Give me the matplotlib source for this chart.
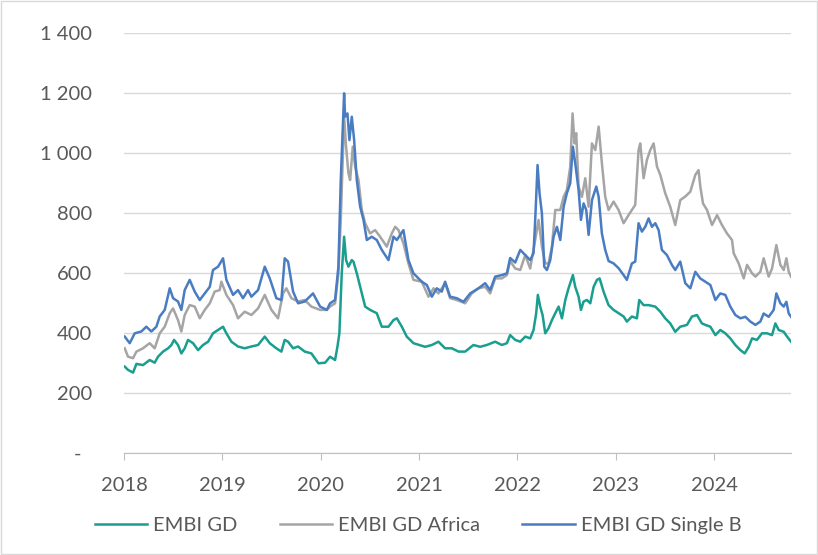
import matplotlib
matplotlib.use("Agg")
import matplotlib.pyplot as plt
from matplotlib.patches import Rectangle
from matplotlib.ticker import FuncFormatter

# Spreads in bps; time as decimal year
gd_t = [2018.007, 2018.041, 2018.092, 2018.126, 2018.193, 2018.261, 2018.312, 2018.346, 2018.397, 2018.448,
        2018.482, 2018.509, 2018.549, 2018.583, 2018.617, 2018.651, 2018.702, 2018.753, 2018.804, 2018.855,
        2018.905, 2018.956,
        2019.007, 2019.041, 2019.092, 2019.159, 2019.227, 2019.295, 2019.363, 2019.431, 2019.482, 2019.549,
        2019.600, 2019.634, 2019.668, 2019.719, 2019.770, 2019.838, 2019.905,
        2019.977, 2020.045, 2020.095, 2020.146, 2020.170, 2020.190, 2020.214, 2020.238, 2020.258, 2020.282,
        2020.316, 2020.333, 2020.367, 2020.418, 2020.452, 2020.502, 2020.570, 2020.621, 2020.689, 2020.740,
        2020.774, 2020.825, 2020.875, 2020.943,
        2021.062, 2021.130, 2021.197, 2021.265, 2021.333, 2021.401, 2021.469, 2021.553, 2021.621, 2021.689,
        2021.774, 2021.842, 2021.893, 2021.926,
        2021.978, 2022.029, 2022.080, 2022.130, 2022.164, 2022.191, 2022.208, 2022.232, 2022.256, 2022.283,
        2022.317, 2022.351, 2022.385, 2022.419, 2022.453, 2022.487, 2022.520, 2022.564, 2022.588, 2022.622,
        2022.646, 2022.673, 2022.707, 2022.741, 2022.775, 2022.809, 2022.836, 2022.876, 2022.927,
        2022.978, 2023.029, 2023.080, 2023.113, 2023.164, 2023.215, 2023.239, 2023.283, 2023.334, 2023.402,
        2023.453, 2023.503, 2023.554, 2023.605, 2023.656, 2023.724, 2023.775, 2023.826, 2023.876,
        2023.911, 2023.962, 2024.013, 2024.063, 2024.114, 2024.165, 2024.216, 2024.267, 2024.311, 2024.352,
        2024.386, 2024.436, 2024.487, 2024.538, 2024.589, 2024.623, 2024.657, 2024.708, 2024.742, 2024.782]
gd_v = [288, 277, 268, 297, 293, 310, 301, 321, 338, 349, 360, 377, 360, 332, 349, 377, 366, 343, 360, 371,
        399, 410,
        421, 399, 371, 355, 349, 355, 360, 388, 366, 349, 338, 377, 371, 349, 355, 338, 332,
        299, 301, 321, 310, 354, 399, 599, 721, 643, 621, 643, 638, 599, 532, 488, 477, 466, 421, 421, 443,
        449, 421, 388, 366,
        354, 360, 371, 349, 349, 338, 338, 360, 354, 360, 371, 360, 366, 393,
        377, 371, 388, 382, 410, 466, 527, 488, 460, 399, 416, 443, 466, 488, 449, 510, 549, 593, 554, 521,
        477, 505, 510, 499, 554, 577, 582, 538, 493,
        477, 466, 455, 438, 455, 449, 510, 493, 493, 488, 471, 449, 432, 404, 421, 427, 455, 460, 432,
        427, 421, 393, 410, 399, 382, 360, 343, 332, 354, 382, 377, 399, 399, 393, 432, 410, 404, 388, 371]

africa_t = [2018.007, 2018.041, 2018.092, 2018.126, 2018.193, 2018.261, 2018.312, 2018.363, 2018.414, 2018.465,
            2018.499, 2018.549, 2018.583, 2018.617, 2018.668, 2018.719, 2018.770, 2018.821, 2018.872, 2018.922,
            2018.973,
            2018.990, 2019.041, 2019.109, 2019.159, 2019.227, 2019.295, 2019.363, 2019.431, 2019.499, 2019.566,
            2019.617, 2019.651, 2019.702, 2019.770, 2019.838, 2019.905,
            2019.994, 2020.062, 2020.095, 2020.146, 2020.180, 2020.204, 2020.224, 2020.238, 2020.258, 2020.282,
            2020.299, 2020.326, 2020.350, 2020.384, 2020.418, 2020.452, 2020.502, 2020.553, 2020.604, 2020.672,
            2020.723, 2020.757, 2020.791, 2020.841, 2020.892, 2020.943,
            2021.028, 2021.096, 2021.147, 2021.197, 2021.265, 2021.316, 2021.384, 2021.469, 2021.536, 2021.604,
            2021.672, 2021.723, 2021.774, 2021.842, 2021.893, 2021.926,
            2021.978, 2022.029, 2022.080, 2022.130, 2022.181, 2022.215, 2022.249, 2022.283, 2022.317, 2022.351,
            2022.385, 2022.436, 2022.470, 2022.503, 2022.537, 2022.561, 2022.581, 2022.598, 2022.622, 2022.656,
            2022.690, 2022.724, 2022.758, 2022.792, 2022.826, 2022.859, 2022.893, 2022.927,
            2022.978, 2023.029, 2023.080, 2023.130, 2023.198, 2023.232, 2023.249, 2023.283, 2023.317, 2023.351,
            2023.385, 2023.419, 2023.453, 2023.503, 2023.554, 2023.605, 2023.656, 2023.707, 2023.758, 2023.809,
            2023.842, 2023.860, 2023.887,
            2023.928, 2023.979, 2024.030, 2024.080, 2024.131, 2024.182, 2024.199, 2024.250, 2024.301, 2024.335,
            2024.386, 2024.420, 2024.470, 2024.504, 2024.555, 2024.589, 2024.633, 2024.674, 2024.708, 2024.735,
            2024.759, 2024.782]
africa_v = [349, 321, 316, 338, 349, 366, 349, 399, 421, 466, 482, 443, 405, 460, 493, 488, 449, 477, 499, 538,
            543,
            571, 527, 493, 449, 471, 460, 482, 527, 477, 449, 532, 549, 516, 505, 510, 488,
            477, 477, 488, 499, 599, 777, 977, 1121, 1021, 932, 910, 1021, 954, 910, 810, 766, 732, 743, 721,
            688, 732, 754, 743, 699, 632, 577,
            571, 521, 549, 532, 566, 516, 510, 499, 532, 549, 554, 532, 582, 582, 593, 640,
            615, 610, 660, 615, 710, 777, 688, 632, 632, 688, 810, 810, 854, 877, 954, 1132, 1032, 1066, 888,
            854, 916, 821, 1032, 1010, 1088, 966, 854, 810,
            838, 810, 766, 793, 827, 1010, 1032, 916, 977, 1010, 1032, 955, 927, 866, 821, 760, 843, 855, 871,
            927, 943, 888, 832,
            810, 760, 793, 760, 732, 710, 666, 632, 582, 627, 599, 588, 604, 649, 588, 615, 693, 627, 610, 649,
            604, 588]

single_b_t = [2018.007, 2018.058, 2018.109, 2018.176, 2018.227, 2018.278, 2018.329, 2018.363, 2018.414, 2018.465,
              2018.499, 2018.549, 2018.583, 2018.617, 2018.668, 2018.719, 2018.770, 2018.821, 2018.872, 2018.905,
              2018.956,
              2019.007, 2019.041, 2019.109, 2019.159, 2019.210, 2019.261, 2019.295, 2019.363, 2019.431, 2019.482,
              2019.549, 2019.600, 2019.634, 2019.668, 2019.719, 2019.770, 2019.838, 2019.922,
              2019.994, 2020.062, 2020.095, 2020.146, 2020.180, 2020.204, 2020.224, 2020.238, 2020.248, 2020.272,
              2020.292, 2020.316, 2020.340, 2020.367, 2020.401, 2020.435, 2020.469, 2020.519, 2020.570, 2020.621,
              2020.689, 2020.740, 2020.774, 2020.841, 2020.892, 2020.943,
              2021.028, 2021.079, 2021.130, 2021.180, 2021.231, 2021.265, 2021.316, 2021.384, 2021.452, 2021.520,
              2021.604, 2021.672, 2021.723, 2021.774, 2021.842, 2021.893, 2021.926,
              2021.978, 2022.029, 2022.080, 2022.130, 2022.164, 2022.181, 2022.205, 2022.225, 2022.249, 2022.273,
              2022.300, 2022.334, 2022.368, 2022.402, 2022.436, 2022.470, 2022.503, 2022.537, 2022.564, 2022.588,
              2022.622, 2022.646, 2022.673, 2022.700, 2022.724, 2022.758, 2022.802, 2022.826, 2022.859, 2022.893,
              2022.927,
              2022.978, 2023.029, 2023.080, 2023.113, 2023.164, 2023.198, 2023.232, 2023.266, 2023.300, 2023.334,
              2023.368, 2023.402, 2023.436, 2023.469, 2023.520, 2023.571, 2023.605, 2023.656, 2023.707, 2023.758,
              2023.809, 2023.859,
              2023.911, 2023.962, 2024.013, 2024.063, 2024.114, 2024.165, 2024.216, 2024.267, 2024.318, 2024.369,
              2024.420, 2024.470, 2024.504, 2024.555, 2024.606, 2024.633, 2024.674, 2024.708, 2024.735, 2024.759,
              2024.782]
single_b_v = [388, 366, 399, 405, 421, 405, 421, 455, 477, 549, 516, 505, 477, 543, 577, 538, 510, 532, 554, 610,
              621,
              649, 577, 527, 543, 516, 543, 521, 543, 621, 582, 516, 510, 649, 638, 538, 499, 505, 532,
              488, 477, 499, 510, 621, 910, 1077, 1199, 1121, 1132, 1043, 1121, 1043, 910, 821, 777, 710, 721,
              710, 677, 643, 721, 710, 743, 643, 599,
              571, 560, 521, 549, 538, 571, 521, 516, 504, 532, 549, 566, 543, 588, 593, 599, 650,
              635, 677, 660, 643, 666, 777, 960, 866, 799, 621, 610, 643, 721, 754, 710, 821, 866, 899, 1021,
              966, 877, 777, 832, 810, 727, 843, 888, 854, 732, 677, 640,
              632, 616, 593, 577, 632, 638, 766, 738, 754, 782, 754, 766, 743, 677, 660, 627, 610, 638, 566,
              549, 604, 582,
              571, 560, 510, 532, 527, 488, 460, 449, 454, 438, 427, 438, 465, 454, 477, 532, 499, 488, 504,
              465, 454]

series_names = ["EMBI GD", "EMBI GD Africa", "EMBI GD Single B"]
years = [2018, 2019, 2020, 2021, 2022, 2023, 2024]
y_ticks = [0, 200, 400, 600, 800, 1000, 1200, 1400]


def fmt_bps(v, pos):
    # Excel style: space as thousands separator, dash for zero
    if v == 0:
        return "-  "
    return f"{int(v):,}".replace(",", " ")


plt.rcParams['font.family'] = ['Lato', 'DejaVu Sans']

fig = plt.figure(figsize=(8.18, 5.55), dpi=100)
ax = fig.add_axes([0.1516, 0.1838, 0.967 - 0.1516, 0.9405 - 0.1838])

ax.plot(gd_t, gd_v, color="#1A9E8F", lw=1.8, label=series_names[0])
ax.plot(africa_t, africa_v, color="#A5A5A5", lw=1.8, label=series_names[1])
ax.plot(single_b_t, single_b_v, color="#4A7CC2", lw=1.8, label=series_names[2])

ax.set_xlim(2018, 2024.782)
ax.set_ylim(0, 1400)
ax.set_xticks(years)
ax.set_xticklabels([str(y) for y in years])
ax.set_yticks(y_ticks)
ax.yaxis.set_major_formatter(FuncFormatter(fmt_bps))

ax.grid(axis="y", color="#D9D9D9", lw=1)
ax.set_axisbelow(True)
for side in ["top", "right", "left"]:
    ax.spines[side].set_visible(False)
ax.spines["bottom"].set_color("#BFBFBF")
ax.tick_params(axis="y", length=0, pad=23, labelsize=14.5, labelcolor="#595959")
ax.tick_params(axis="x", length=5, color="#BFBFBF", pad=12, labelsize=14.5, labelcolor="#595959")

fig.legend(loc="lower center", bbox_to_anchor=(0.511, 0.005), ncol=3, frameon=False,
           fontsize=14.5, handlelength=2.6, handletextpad=0.3, columnspacing=2.1,
           labelcolor="#595959")

fig.patches.append(Rectangle((0.001, 0.001), 0.998, 0.997, transform=fig.transFigure,
                             fill=False, edgecolor="#D9D9D9", lw=1))

fig.savefig("out.png", dpi=100)
